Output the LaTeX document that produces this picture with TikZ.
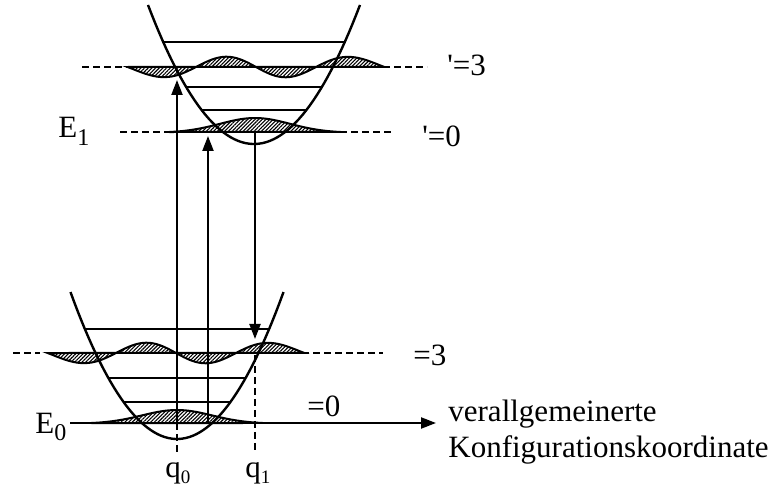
\documentclass[tikz,border=0pt]{standalone}
\usepackage{fontspec}
\setmainfont{Liberation Serif}
\newfontfamily\lblfont{Liberation Serif}
\usetikzlibrary{arrows.meta,patterns.meta}
\newcommand\esub[1]{\raisebox{-3.6pt}{\fontsize{12}{13}\selectfont#1}}
\newcommand\qsub[1]{\raisebox{-2.5pt}{\fontsize{9.5}{10}\selectfont#1}}
\tikzset{
  curve/.style={line width=1.2pt},
  level/.style={line width=1.1pt},
  dashlevel/.style={line width=1.1pt, dash pattern=on 3.5pt off 2pt},
  wave/.style={line width=1pt, pattern={Lines[angle=45,distance=1.3pt,line width=0.55pt]}},
  arrow/.style={-{Triangle[length=7.5pt,width=5.5pt]}, line width=1.1pt},
  lbl/.style={anchor=base west, inner sep=0pt, font=\lblfont\fontsize{15.5}{18}\selectfont},
  declare function={
    psinull(\t)=(exp(-\t*\t/2)-0.05)/0.95;
    psidrei(\t)=(2*\t*\t*\t-3*\t)*exp(-\t*\t/2)*(1-(\t*\t/6.8644)^3);
  }
}
\begin{document}
\begin{tikzpicture}[x=0.5pt, y=-0.5pt]
  \useasboundingbox (0,0) rectangle (778,492);

  % upper potential curve
  \draw[curve] plot[domain=-106:106, samples=60] ({254+\x},{144-0.01237*\x*\x});
  \foreach \y in {42,87,110}
    \draw[level] ({254-sqrt((144-\y)/0.01237)},\y) -- ({254+sqrt((144-\y)/0.01237)},\y);
  \draw[dashlevel] (82,67) -- (137,67);
  \draw[dashlevel] (383,67) -- (427,67);
  \draw[wave] plot[domain=-2.62:2.62, samples=90] ({256+49*\x},{67-9*psidrei(\x)}) -- cycle;
  \draw[dashlevel] (120,132) -- (170,132);
  \draw[dashlevel] (340,132) -- (393,132);
  \draw[wave] plot[domain=-2.448:2.448, samples=60] ({255+35*\x},{132-14*psinull(\x)}) -- cycle;

  % lower potential curve
  \draw[curve] plot[domain=-106.5:106.5, samples=60] ({177+\x},{439-0.01296*\x*\x});
  \foreach \y in {329,378,402}
    \draw[level] ({177-sqrt((439-\y)/0.01296)},\y) -- ({177+sqrt((439-\y)/0.01296)},\y);
  \draw[dashlevel] (13,353) -- (40,353);
  \draw[dashlevel] (302,353) -- (383,353);
  \draw[wave] plot[domain=-2.62:2.62, samples=90] ({176+49*\x},{353-9*psidrei(\x)}) -- cycle;
  \draw[wave] plot[domain=-2.448:2.448, samples=60] ({177+35*\x},{423-13*psinull(\x)}) -- cycle;

  % points of the transitions
  \coordinate (axisstart) at (70,423);
  \coordinate (axisend) at (436,423);
  \coordinate (qnull) at (177,423);
  \coordinate (qnullfoot) at (177,452);
  \coordinate (absdrei) at (177,80);
  \coordinate (nullbase) at (208,423);
  \coordinate (absnull) at (208,136);
  \coordinate (emtop) at (255,132);
  \coordinate (emend) at (255,339);
  \coordinate (qeins) at (255,355);
  \coordinate (qeinsfoot) at (255,452);

  \draw[arrow] (axisstart) -- (axisend);
  \draw[arrow] (qnull) -- (absdrei);
  \draw[arrow] (nullbase) -- (absnull);
  \draw[arrow] (emtop) -- (emend);
  \draw[dashlevel] (qnull) -- (qnullfoot);
  \draw[dashlevel] (qeins) -- (qeinsfoot);

  % labels
  \node[lbl] (vodrei) at (447,76) {'=3};
  \node[lbl] (vonull) at (422,147) {'=0};
  \node[lbl] (vudrei) at (413,365) {=3};
  \node[lbl] (vunull) at (307,416) {=0};
  \node[lbl] (eeins) at (58,138) {E\esub{1}};
  \node[lbl] (enull) at (35,433) {E\esub{0}};
  \node[lbl] (qlnull) at (165,478) {q\qsub{0}};
  \node[lbl] (qleins) at (245,478) {q\qsub{1}};
  \node[lbl, anchor=west, align=left] (achse) at (448,432)
    {verallgemeinerte\\Konfigurationskoordinate};
\end{tikzpicture}
\end{document}
